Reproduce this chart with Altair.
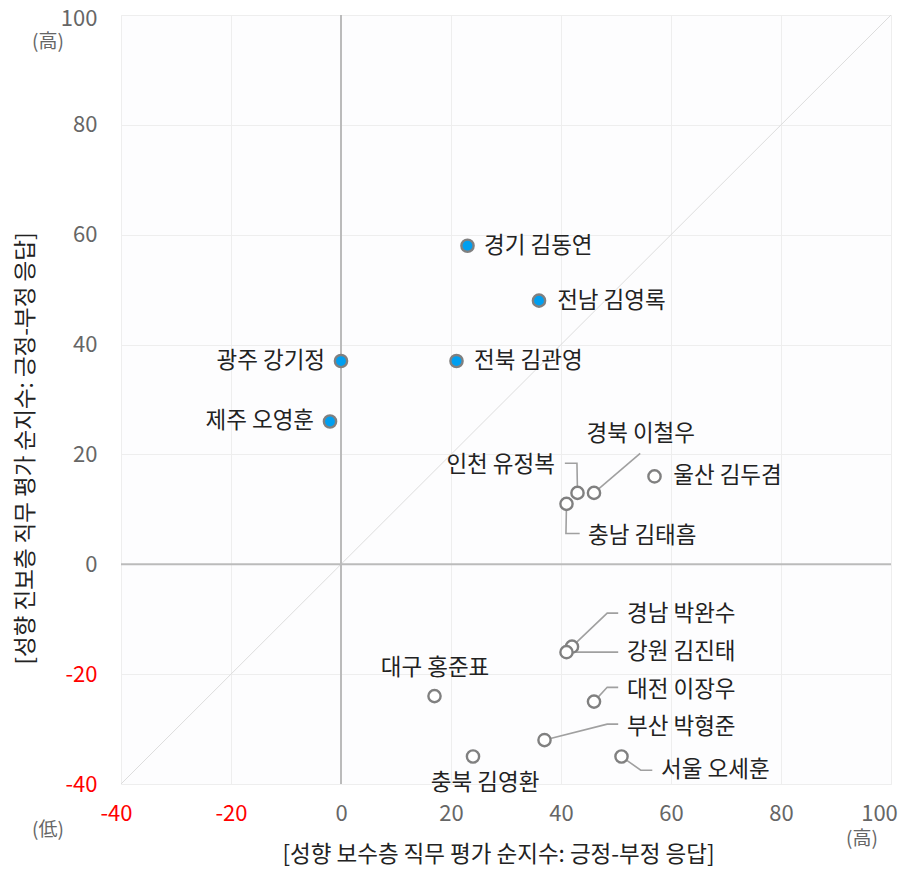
import altair as alt
import pandas as pd

names = ["경기 김동연", "전남 김영록", "광주 강기정", "전북 김관영", "제주 오영훈",
         "울산 김두겸", "경북 이철우", "인천 유정복", "충남 김태흠",
         "경남 박완수", "강원 김진태", "대구 홍준표", "대전 이장우",
         "부산 박형준", "충북 김영환", "서울 오세훈"]
conservative = [23, 36, 0, 21, -2, 57, 46, 43, 41, 42, 41, 17, 46, 37, 24, 51]
progressive = [58, 48, 37, 37, 26, 16, 13, 13, 11, -15, -16, -24, -25, -32, -35, -35]
group = ["진보"] * 5 + ["보수"] * 11

# label anchor positions (data units) and alignment
label_x = [26.0, 39.3, -2.9, 24.2, -4.9, 60.4, 54.5, 38.9, 44.9, 52.0, 52.0, 17.1, 52.0, 52.0, 26.2, 58.2]
label_y = [58, 48, 37, 37, 26, 16, 23.7, 18.0, 5.1, -9.1, -16.0, -18.9, -22.8, -29.7, -39.9, -37.5]
label_align = ["left", "left", "right", "left", "right", "left", "center", "right", "left",
               "left", "left", "center", "left", "left", "center", "left"]

# leader line bend points (data units), starting at each point
leaders = {
    "경북 이철우": [(46, 13), (54.4, 20.2)],
    "인천 유정복": [(43, 13), (42.9, 18.4), (40.7, 18.4)],
    "충남 김태흠": [(41, 11), (40.9, 5.6), (43.4, 5.6)],
    "경남 박완수": [(42, -15), (48.4, -8.9), (50.4, -8.9)],
    "강원 김진태": [(41, -16), (50.4, -16.0)],
    "대전 이장우": [(46, -25), (48.4, -22.4), (50.4, -22.4)],
    "부산 박형준": [(37, -32), (48.4, -29.1), (50.4, -29.1)],
    "서울 오세훈": [(51, -35), (54.5, -37.5), (56.6, -37.5)],
}

ticks = [-40, -20, 0, 20, 40, 60, 80, 100]
x_title = "[성향 보수층 직무 평가 순지수: 긍정-부정 응답]"
y_title = "[성향 진보층 직무 평가 순지수: 긍정-부정 응답]"

FONT = "Noto Sans CJK KR"
TXT = 22.5

df = pd.DataFrame({"name": names, "x": conservative, "y": progressive, "group": group,
                   "lx": label_x, "ly": label_y, "align": label_align})

rows = []
for n, pts in leaders.items():
    for i, (a, b) in enumerate(pts):
        rows.append({"name": n, "order": i, "x": a, "y": b})
leader_df = pd.DataFrame(rows)

xs = alt.Scale(domain=[-40, 100], nice=False)
ys = alt.Scale(domain=[-40, 100], nice=False)

label_color = {"condition": {"test": "datum.value < 0", "value": "#ff0000"}, "value": "#666666"}

x_axis = alt.Axis(values=ticks, title=x_title, grid=True, gridColor="#eeeeee", domain=False,
                  ticks=False, labelFontSize=22, labelFont=FONT, labelColor=label_color,
                  labelExpr="datum.value + ''",
                  labelOffset={"condition": [{"test": "datum.value === 100", "value": -12},
                                             {"test": "datum.value === -40", "value": -5}],
                               "value": 0},
                  labelPadding=19, labelFlush=False, titleFont=FONT, titleFontSize=TXT,
                  titleFontWeight="normal", titleColor="#222222", titleX=377, titleY=70,
                  titleAlign="center", titleBaseline="middle")
y_axis = alt.Axis(values=ticks, title=y_title, grid=True, gridColor="#eeeeee", domain=False,
                  ticks=False, labelFontSize=22, labelFont=FONT, labelColor=label_color,
                  labelExpr="datum.value + ''",
                  labelOffset={"condition": {"test": "datum.value === 100", "value": 3}, "value": 0},
                  labelPadding=24, labelFlush=False, titleFont=FONT, titleFontSize=TXT,
                  titleFontWeight="normal", titleColor="#222222", titleX=-96, titleY=433,
                  titleAngle=270, titleAlign="center", titleBaseline="middle")

base = alt.Chart(df)

diag_df = pd.DataFrame({"x": [-40], "y": [-40], "x2": [100], "y2": [100]})
diag = alt.Chart(diag_df).mark_rule(color="#dddddd", strokeWidth=1).encode(
    x=alt.X("x:Q", scale=xs, axis=x_axis),
    y=alt.Y("y:Q", scale=ys, axis=y_axis),
    x2="x2:Q", y2="y2:Q")

zero_df = pd.DataFrame({"v": [0]})
vzero = alt.Chart(zero_df).mark_rule(color="#bbbbbb", strokeWidth=2).encode(x=alt.X("v:Q", scale=xs))
hzero = alt.Chart(zero_df).mark_rule(color="#bbbbbb", strokeWidth=2).encode(y=alt.Y("v:Q", scale=ys))

lead = alt.Chart(leader_df).mark_line(color="#a0a0a0", strokeWidth=1.6).encode(
    x=alt.X("x:Q", scale=xs), y=alt.Y("y:Q", scale=ys), detail="name:N", order="order:Q")

pts = base.mark_point(filled=True, size=150, strokeWidth=2.4, stroke="#808080", opacity=1).encode(
    x=alt.X("x:Q", scale=xs), y=alt.Y("y:Q", scale=ys),
    fill=alt.Color("group:N", scale=alt.Scale(domain=["진보", "보수"], range=["#009ff0", "#ffffff"]), legend=None))

texts = []
for a in ["left", "right", "center"]:
    texts.append(base.transform_filter(alt.datum.align == a).mark_text(
        align=a, baseline="middle", font=FONT, fontSize=TXT, color="#222222").encode(
        x=alt.X("lx:Q", scale=xs), y=alt.Y("ly:Q", scale=ys), text="name:N"))

ann = []
for t, px, py in [("(高)", -73, 27), ("(低)", -73, 815), ("(高)", 741, 824)]:
    ann.append(alt.Chart(pd.DataFrame({"t": [t]})).mark_text(
        font=FONT, fontSize=19, color="#666666", align="center", baseline="middle").encode(
        x=alt.value(px), y=alt.value(py), text="t:N"))

chart = alt.layer(diag, vzero, hzero, lead, pts, *texts, *ann).properties(
    width=770, height=769,
    padding={"left": 113, "top": 7, "right": 11, "bottom": 83},
    autosize=alt.AutoSizeParams(type="none"),
).configure_view(fill="#fdfdfe", stroke="#eeeeee", strokeWidth=1)

chart.save("out.html", embed_options={"renderer": "svg", "actions": False})
